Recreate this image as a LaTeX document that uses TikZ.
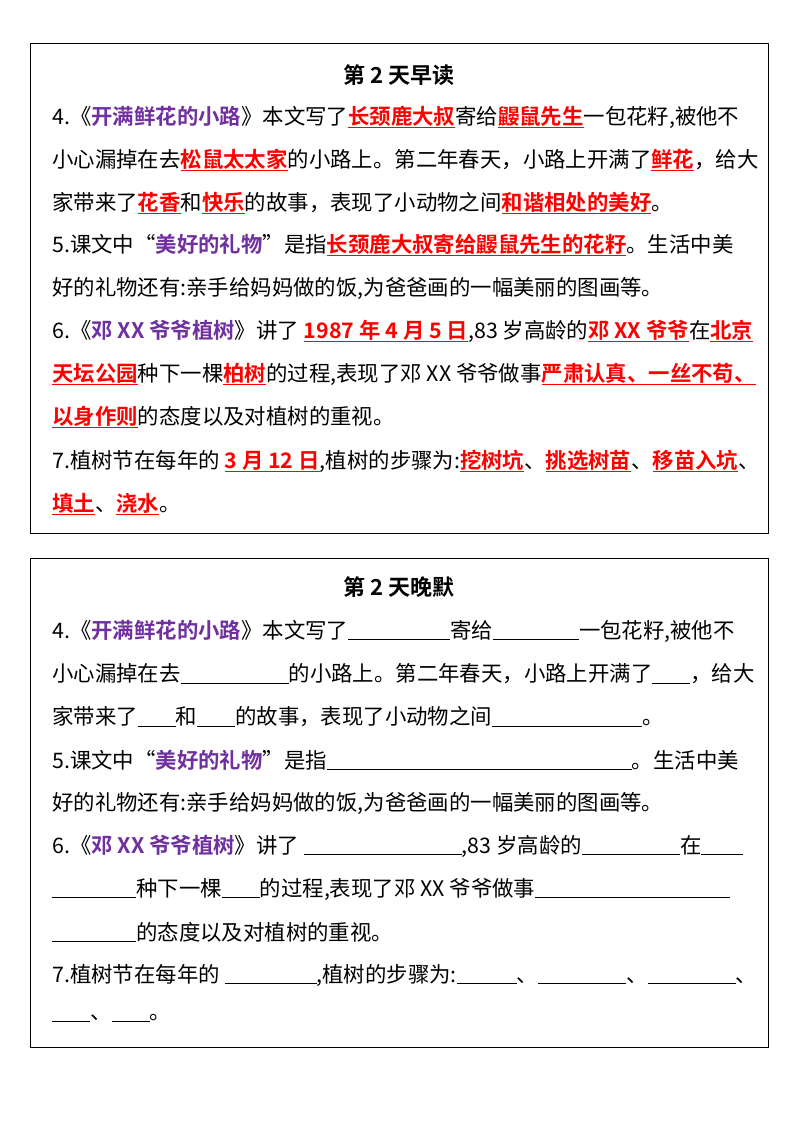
\documentclass[tikz,border=0pt]{standalone}
\usepackage{fontspec}
\setmainfont{Noto Sans CJK SC}[BoldFont={Noto Sans CJK SC Bold}]
\definecolor{pur}{RGB}{112,48,160}
\definecolor{rd}{RGB}{255,0,0}
\newcommand{\pu}[1]{\textcolor{pur}{\textbf{#1}}}
\newcommand{\rt}[1]{\textcolor{rd}{\textbf{\underline{#1}}}}
\newcommand{\bl}[1]{\underline{\hspace{#1pt}}}
\begin{document}
\begin{tikzpicture}[x=1pt,y=-1pt,
  ln/.style={anchor=west,inner sep=0pt,font=\fontsize{21.4}{24}\selectfont},
  tt/.style={inner sep=0pt,font=\fontsize{22}{24}\selectfont\bfseries},
  frame/.style={draw,line width=1pt}]
\useasboundingbox (0,0) rectangle (800,1132);
\draw[frame] (30,44) rectangle (768,533);
\draw[frame] (30,558) rectangle (768,1047);
\node[tt] (t1) at (399,75) {第 2 天早读};
\node[ln] (a1) at (52,117) {4.《\pu{开满鲜花的小路}》本文写了\rt{长颈鹿大叔}寄给\rt{鼹鼠先生}一包花籽,被他不};
\node[ln] (a2) at (52,160) {小心漏掉在去\rt{松鼠太太家}的小路上。第二年春天，小路上开满了\rt{鲜花}，给大};
\node[ln] (a3) at (52,203) {家带来了\rt{花香}和\rt{快乐}的故事，表现了小动物之间\rt{和谐相处的美好}。};
\node[ln] (a4) at (52,245) {5.课文中“\pu{美好的礼物}”是指\rt{长颈鹿大叔寄给鼹鼠先生的花籽}。生活中美};
\node[ln] (a5) at (52,288) {好的礼物还有:亲手给妈妈做的饭,为爸爸画的一幅美丽的图画等。};
\node[ln] (a6) at (52,331) {6.《\pu{邓 XX 爷爷植树}》讲了 \rt{1987 年 4 月 5 日},83 岁高龄的\rt{邓 XX 爷爷}在\rt{北京}};
\node[ln] (a7) at (52,374) {\rt{天坛公园}种下一棵\rt{柏树}的过程,表现了邓 XX 爷爷做事\rt{严肃认真、一丝不苟、}};
\node[ln] (a8) at (52,417) {\rt{以身作则}的态度以及对植树的重视。};
\node[ln] (a9) at (52,461) {7.植树节在每年的 \rt{3 月 12 日},植树的步骤为:\rt{挖树坑}、\rt{挑选树苗}、\rt{移苗入坑}、};
\node[ln] (a10) at (52,504) {\rt{填土}、\rt{浇水}。};
\node[tt] (t2) at (399,587) {第 2 天晚默};
\node[ln] (b1) at (52,631) {4.《\pu{开满鲜花的小路}》本文写了\bl{102}寄给\bl{86}一包花籽,被他不};
\node[ln] (b2) at (52,674) {小心漏掉在去\bl{108}的小路上。第二年春天，小路上开满了\bl{38}，给大};
\node[ln] (b3) at (52,717) {家带来了\bl{38}和\bl{38}的故事，表现了小动物之间\bl{150}。};
\node[ln] (b4) at (52,760) {5.课文中“\pu{美好的礼物}”是指\bl{305}。生活中美};
\node[ln] (b5) at (52,803) {好的礼物还有:亲手给妈妈做的饭,为爸爸画的一幅美丽的图画等。};
\node[ln] (b6) at (52,846) {6.《\pu{邓 XX 爷爷植树}》讲了 \bl{158},83 岁高龄的\bl{98}在\bl{42}};
\node[ln] (b7) at (52,889) {\bl{84}种下一棵\bl{38}的过程,表现了邓 XX 爷爷做事\bl{195}};
\node[ln] (b8) at (52,932) {\bl{84}的态度以及对植树的重视。};
\node[ln] (b9) at (52,975) {7.植树节在每年的 \bl{92},植树的步骤为:\bl{60}、\bl{88}、\bl{88}、};
\node[ln] (b10) at (52,1018) {\bl{38}、\bl{38}。};
\end{tikzpicture}
\end{document}
